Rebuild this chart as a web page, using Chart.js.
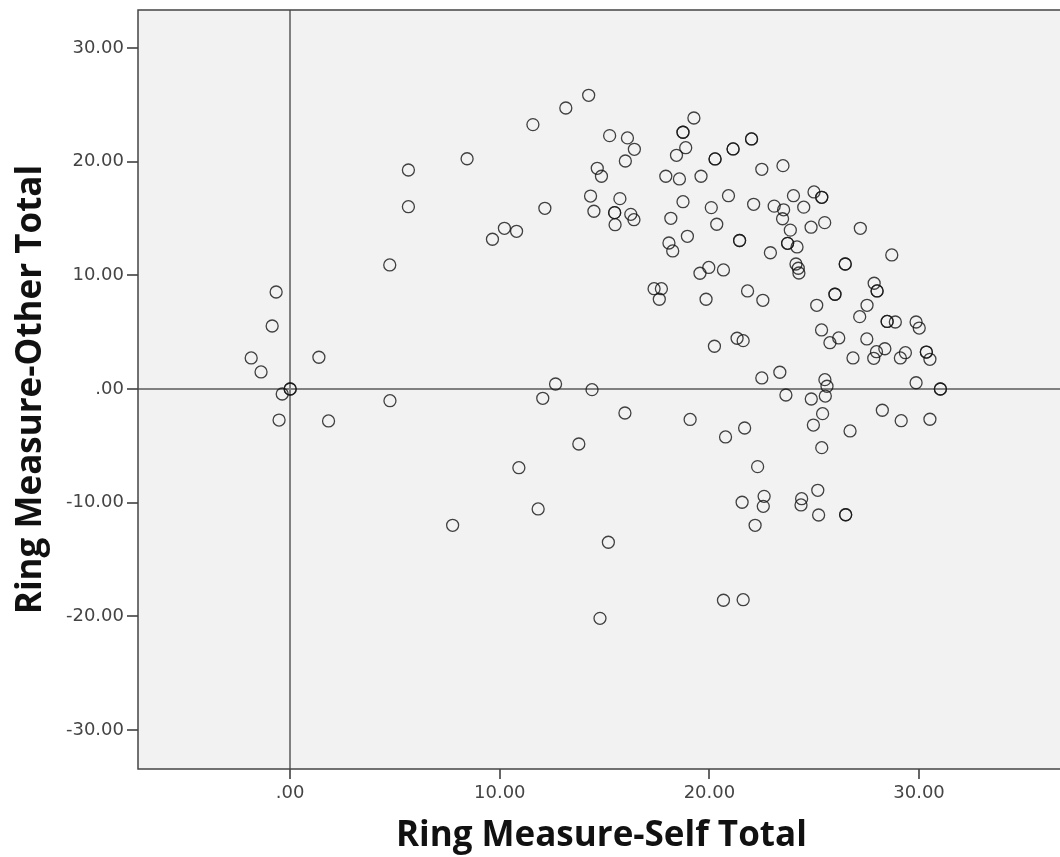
<!DOCTYPE html>
<html><head><meta charset="utf-8">
<script src="https://cdn.jsdelivr.net/npm/chart.js@4/dist/chart.umd.min.js"></script>
<style>
html,body{margin:0;padding:0;background:#fff;overflow:hidden;}
#wrap{position:relative;width:1072px;height:857px;}
</style></head><body>
<div id="wrap"><canvas id="c"></canvas></div>
<script>
const selfTotal = [
 -1.86,-1.39,-0.67,-0.86,0,0,-0.38,-0.53,1.37,1.83,
 4.75,4.76,5.64,5.64,8.44,7.75,9.65,10.22,10.80,11.58,
 12.15,13.15,14.24,15.24,16.09,16.42,15.99,14.65,14.85,14.33,
 14.49,15.73,15.48,15.48,15.50,16.25,16.40,19.26,18.74,18.74,
 18.87,18.43,20.27,20.27,21.13,21.13,22.01,22.01,17.92,18.57,
 19.60,22.50,23.51,18.74,20.91,20.09,22.11,24.01,24.99,25.36,
 25.36,23.09,23.54,24.50,23.49,18.16,20.35,23.86,24.85,25.50,
 27.20,18.95,18.07,18.25,21.44,21.44,23.73,23.73,24.18,22.91,
 28.70,24.13,24.24,24.27,26.48,26.48,19.97,19.55,20.67,17.36,
 17.71,17.61,19.84,21.82,22.55,27.86,28.00,28.00,25.99,25.99,
 27.52,27.17,25.12,28.48,28.48,28.87,29.86,30.01,25.35,20.24,
 21.32,21.61,25.75,26.17,27.51,26.85,27.97,28.37,27.84,29.11,
 29.35,30.35,30.35,30.52,22.50,23.36,25.51,25.61,25.53,24.86,
 23.65,29.86,31.02,31.02,12.66,12.05,14.40,15.97,13.77,10.91,
 11.83,15.18,14.78,19.08,21.68,25.40,24.96,28.25,29.15,30.52,
 26.71,20.77,25.36,22.30,21.56,22.61,22.57,24.40,24.37,25.17,
 25.21,26.50,26.50,22.18,20.67,21.61
];
const otherTotal = [
 2.73,1.50,8.53,5.54,0,0,-0.44,-2.73,2.79,-2.81,
 10.91,-1.03,19.26,16.03,20.25,-11.99,13.17,14.13,13.87,23.25,
 15.89,24.71,25.83,22.28,22.08,21.08,20.05,19.41,18.71,16.97,
 15.63,16.74,15.51,15.51,14.45,15.36,14.89,23.83,22.58,22.58,
 21.22,20.55,20.23,20.23,21.11,21.11,21.99,21.99,18.71,18.47,
 18.71,19.32,19.64,16.47,17.00,15.95,16.24,17.00,17.33,16.86,
 16.86,16.08,15.76,15.99,14.97,15.01,14.49,13.97,14.23,14.63,
 14.13,13.43,12.84,12.14,13.06,13.06,12.81,12.81,12.49,11.98,
 11.79,10.99,10.62,10.20,10.99,10.99,10.69,10.18,10.47,8.82,
 8.82,7.89,7.89,8.62,7.80,9.30,8.62,8.62,8.33,8.33,
 7.36,6.36,7.36,5.94,5.94,5.89,5.89,5.36,5.19,3.76,
 4.46,4.25,4.07,4.49,4.40,2.73,3.28,3.54,2.70,2.73,
 3.19,3.25,3.25,2.61,0.97,1.47,0.82,0.24,-0.62,-0.88,
 -0.53,0.55,0,0,0.44,-0.82,-0.06,-2.11,-4.84,-6.92,
 -10.55,-13.48,-20.17,-2.68,-3.43,-2.17,-3.17,-1.87,-2.79,-2.66,
 -3.69,-4.22,-5.16,-6.83,-9.96,-9.44,-10.32,-9.65,-10.20,-8.91,
 -11.08,-11.06,-11.06,-11.99,-18.58,-18.53
];
const xTickValues = [0, 10, 20, 30];
const xTickLabels = ['.00', '10.00', '20.00', '30.00'];
const yTickValues = [-30, -20, -10, 0, 10, 20, 30];
const yTickLabels = ['-30.00', '-20.00', '-10.00', '.00', '10.00', '20.00', '30.00'];
const xTitle = 'Ring Measure-Self Total';
const yTitle = 'Ring Measure-Other Total';

const points = selfTotal.map((v, i) => ({ x: v, y: otherTotal[i] }));

const plotFrame = {
  id: 'plotFrame',
  beforeDraw(chart) {
    const { ctx, chartArea: a } = chart;
    ctx.save();
    ctx.fillStyle = '#f2f2f2';
    ctx.fillRect(a.left, a.top, a.right - a.left + 20, a.bottom - a.top);
    ctx.restore();
  },
  afterDraw(chart) {
    const { ctx, chartArea: a } = chart;
    ctx.save();
    ctx.strokeStyle = '#444';
    ctx.lineWidth = 1.5;
    ctx.strokeRect(a.left, a.top, a.right - a.left + 20, a.bottom - a.top);
    ctx.restore();
  }
};

const tickFont = { family: 'DejaVu Sans', size: 18 };
const titleFont = { family: 'Open Sans', size: 35, weight: 'bold' };

new Chart(document.getElementById('c'), {
  type: 'scatter',
  data: {
    datasets: [{
      data: points,
      pointRadius: 6,
      pointHoverRadius: 6,
      pointBorderWidth: 1.3,
      pointBackgroundColor: 'rgba(0,0,0,0)',
      pointBorderColor: 'rgba(20,20,20,0.8)'
    }]
  },
  options: {
    responsive: true,
    maintainAspectRatio: false,
    animation: false,
    events: [],
    layout: { padding: { top: 10, right: 0, bottom: 0, left: 0 } },
    plugins: { legend: { display: false }, tooltip: { enabled: false } },
    scales: {
      x: {
        type: 'linear',
        min: -7.26,
        max: 36.95,
        afterBuildTicks(scale) { scale.ticks = xTickValues.map(v => ({ value: v })); },
        afterFit(scale) { scale.height = 88; },
        ticks: {
          font: tickFont,
          color: '#444',
          padding: 4,
          maxRotation: 0,
          autoSkip: false,
          callback: (v, i) => xTickLabels[i]
        },
        grid: {
          drawOnChartArea: true,
          drawTicks: true,
          tickLength: 10,
          tickColor: '#333',
          tickWidth: 1.5,
          color: ctx => (ctx.tick && ctx.tick.value === 0) ? '#808080' : 'rgba(0,0,0,0)',
          lineWidth: 2
        },
        border: { display: false },
        title: {
          display: true,
          text: xTitle,
          font: titleFont,
          color: '#111',
          padding: { top: 0, bottom: 0 }
        }
      },
      y: {
        type: 'linear',
        min: -33.42,
        max: 33.33,
        afterBuildTicks(scale) { scale.ticks = yTickValues.map(v => ({ value: v })); },
        afterFit(scale) { scale.width = 138; scale.paddingTop = 0; scale.paddingBottom = 0; },
        ticks: {
          font: tickFont,
          color: '#444',
          padding: 3,
          autoSkip: false,
          callback: (v, i) => yTickLabels[i]
        },
        grid: {
          drawOnChartArea: true,
          drawTicks: true,
          tickLength: 11,
          tickColor: '#333',
          tickWidth: 1.5,
          color: ctx => (ctx.tick && ctx.tick.value === 0) ? '#808080' : 'rgba(0,0,0,0)',
          lineWidth: 2
        },
        border: { display: false },
        title: {
          display: true,
          text: yTitle,
          font: titleFont,
          color: '#111',
          padding: { top: 10, bottom: 0 }
        }
      }
    }
  },
  plugins: [plotFrame]
});
</script>
</body></html>
